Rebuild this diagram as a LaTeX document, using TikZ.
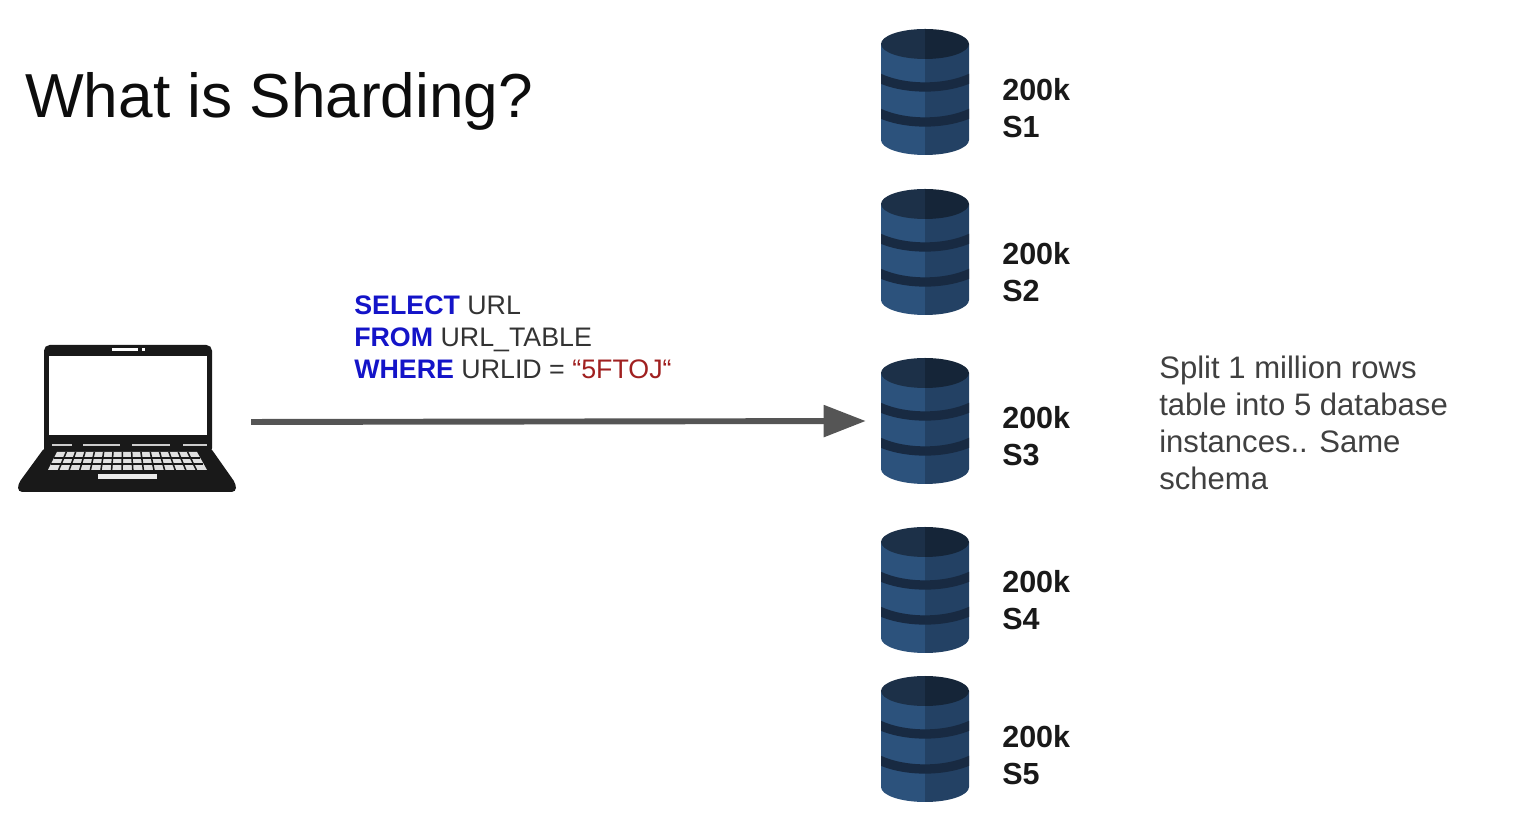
\documentclass[tikz,border=0pt]{standalone}
\usepackage{fontspec}
\setmainfont{Liberation Sans}
\usepackage{xcolor}
\usetikzlibrary{arrows.meta,positioning}
\definecolor{dbtop}{RGB}{28,48,72}
\definecolor{dbtopdark}{RGB}{21,37,56}
\definecolor{dbbody}{RGB}{44,82,124}
\definecolor{dbbodydark}{RGB}{35,65,100}
\definecolor{dbband}{RGB}{24,42,66}
\definecolor{sqlblue}{RGB}{20,20,200}
\definecolor{sqlred}{RGB}{160,32,32}
\definecolor{arrowgrey}{RGB}{85,85,85}
\tikzstyle{arrow} = [line width=4.2pt,-{Triangle[length=30pt,width=22pt]},color=arrowgrey,shorten >=10.6pt,shorten <=10.6pt]
\tikzstyle{dbbox} = [rectangle, minimum width=2.2cm, minimum height=3.15cm, inner sep=0pt]
\tikzstyle{shardlabel} = [anchor=west, align=left, inner sep=0pt, text=black!90, font=\fontsize{21.7}{26.2}\selectfont\bfseries]
\begin{document}
\begin{tikzpicture}[x=0.025cm,y=0.025cm]
\useasboundingbox (0,0) rectangle (1530,814);

% Title
\node[anchor=west, inner sep=0pt, text=black!95, font=\fontsize{44.2}{50}\selectfont] (title) at (25,713) {What is Sharding?};

% Laptop
\node[minimum width=5.45cm, minimum height=3.65cm, inner sep=0pt] (laptop) at (127,392) {};
\fill[black!90, rounded corners=4pt] (44,469) rectangle (212,360);
\fill[black!90, rounded corners=3pt] (45,367) -- (210,367) -- (236,330) -- (236,322) -- (18,322) -- (18,330) -- cycle;
\fill[white] (49,458) rectangle (207,379);
\fill[white] (112,466) rectangle (138,463);
\fill[white] (142,466) rectangle (145,463);
\foreach \xa/\xb in {52/72,83/120,132/170,183/207}
  \fill[white!80!black] (\xa,370) rectangle (\xb,368);
\fill[black!12] (57,362) -- (197,362) -- (207,344) -- (48,344) -- cycle;
\foreach \k in {1,...,14}
  \draw[black!90, line width=1.1pt] ({57+\k*9.33},362) -- ({48+\k*10.6},344);
\draw[black!90, line width=0.9pt] (54,356) -- (200,356) (51,350) -- (203,350);
\fill[black!8] (98,340) rectangle (157,335);

% Shards
\foreach \name/\ypos/\ytxt/\lab in {s1/722/706/S1,s2/562/542/S2,s3/393/378/S3,s4/224/214/S4,s5/75/59/S5}{
  \node[dbbox] (\name) at (925,\ypos) {};
  \begin{scope}[shift={(925,\ypos)}]
    \fill[dbbody] (-44,48) -- (0,48) -- (0,-63) arc[start angle=270,end angle=180,x radius=44,y radius=15] -- cycle;
    \fill[dbbodydark] (0,48) -- (44,48) -- (44,-48) arc[start angle=360,end angle=270,x radius=44,y radius=15] -- cycle;
    \begin{scope}
      \clip (-44,48) rectangle (44,-63);
      \draw[dbband, line width=6.6pt] (-46,14) .. controls (-20,2) and (20,2) .. (46,14);
      \draw[dbband, line width=6.6pt] (-46,-21) .. controls (-20,-33) and (20,-33) .. (46,-21);
    \end{scope}
    \fill[dbtop] (0,63) arc[start angle=90,end angle=270,x radius=44,y radius=15] -- cycle;
    \fill[dbtopdark] (0,63) arc[start angle=90,end angle=-90,x radius=44,y radius=15] -- cycle;
  \end{scope}
  \node[shardlabel] (\name label) at (1002,\ytxt) {200k\\\lab};
}

% Query
\node[anchor=west, align=left, inner sep=0pt, text=black!80, font=\fontsize{19.05}{22.7}\selectfont] (query) at (354,477) {
\textcolor{sqlblue}{\textbf{SELECT}} URL\\
\textcolor{sqlblue}{\textbf{FROM}} URL\_TABLE\\
\textcolor{sqlblue}{\textbf{WHERE}} URLID = \textcolor{sqlred}{“5FTOJ“}
};

% Arrow
\draw[arrow] (laptop.east) -- (s3.west);

% Note
\node[anchor=west, align=left, inner sep=0pt, text=black!75, font=\fontsize{22.1}{26.2}\selectfont] (note) at (1159,391) {
Split 1 million rows\\
table into 5 database\\
instances.. Same\\
schema
};
\end{tikzpicture}
\end{document}
